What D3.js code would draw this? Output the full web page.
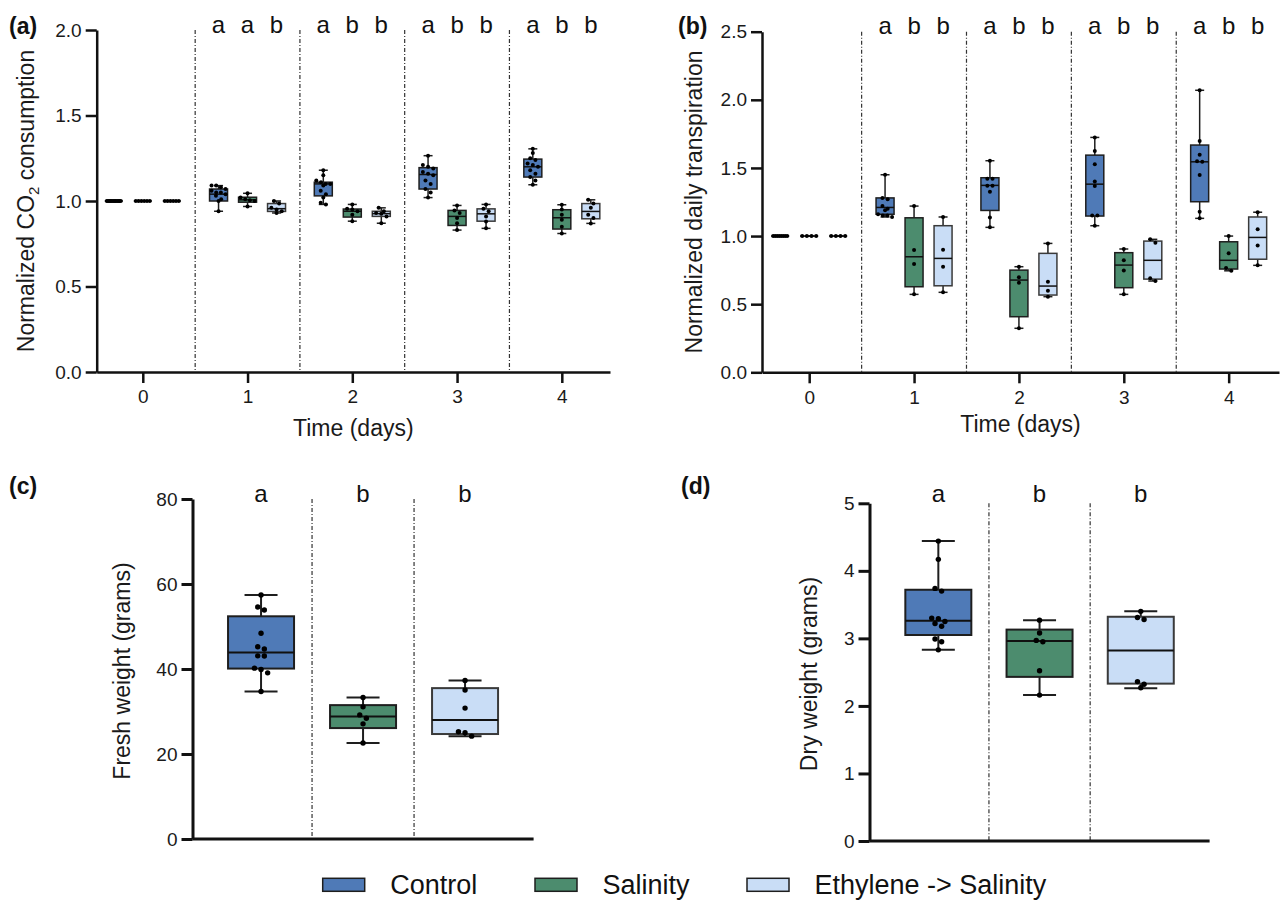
<!DOCTYPE html>
<html>
<head>
<meta charset="utf-8">
<script src="https://cdn.jsdelivr.net/npm/d3@7/dist/d3.min.js"></script>
<style>
  html, body { margin: 0; padding: 0; background: #fff; }
  svg { display: block; font-family: "Liberation Sans", Arial, Helvetica, sans-serif; }
</style>
</head>
<body>
<svg id="chart" width="1282" height="900"></svg>
<script>
// ---------------- DATA ----------------
const groups = ["Control", "Salinity", "Ethylene -> Salinity"];
const days = [0, 1, 2, 3, 4];
const dayTicks = ["0", "1", "2", "3", "4"];

// Panel (a): Normalized CO2 consumption, box stats [min, q1, median, q3, max]
const co2Control = [
  [1, 1, 1, 1, 1],
  [0.94, 1.00, 1.04, 1.07, 1.09],
  [0.98, 1.03, 1.10, 1.11, 1.18],
  [1.02, 1.07, 1.155, 1.195, 1.265],
  [1.095, 1.14, 1.20, 1.245, 1.305]
];
const co2Salinity = [
  [1, 1, 1, 1, 1],
  [0.968, 0.993, 1.007, 1.022, 1.045],
  [0.882, 0.906, 0.94, 0.953, 0.98],
  [0.83, 0.857, 0.91, 0.945, 0.974],
  [0.81, 0.836, 0.902, 0.949, 0.978]
];
const co2Ethylene = [
  [1, 1, 1, 1, 1],
  [0.93, 0.939, 0.955, 0.985, 1.00],
  [0.87, 0.91, 0.926, 0.94, 0.96],
  [0.84, 0.882, 0.925, 0.954, 0.98],
  [0.869, 0.896, 0.939, 0.985, 1.007]
];
const co2ControlPts = [
  [1, 1, 1, 1, 1, 1, 1, 1, 1, 1, 1, 1],
  [1.09, 1.09, 1.08, 1.07, 1.06, 1.05, 1.05, 1.04, 1.03, 1.01, 1.00, 0.94],
  [1.18, 1.15, 1.12, 1.11, 1.10, 1.10, 1.09, 1.06, 1.04, 1.02, 0.99, 0.98],
  [1.265, 1.21, 1.20, 1.19, 1.17, 1.16, 1.15, 1.12, 1.10, 1.07, 1.05, 1.02],
  [1.305, 1.28, 1.25, 1.24, 1.22, 1.21, 1.20, 1.18, 1.16, 1.14, 1.12, 1.095]
];
const co2SalinityPts = [
  [1, 1, 1, 1, 1, 1],
  [1.045, 1.02, 1.01, 1.005, 1.00, 0.968],
  [0.98, 0.955, 0.95, 0.94, 0.92, 0.882],
  [0.974, 0.945, 0.93, 0.90, 0.87, 0.83],
  [0.978, 0.95, 0.92, 0.89, 0.85, 0.81]
];
const co2EthylenePts = [
  [1, 1, 1, 1, 1, 1],
  [1.00, 0.985, 0.96, 0.95, 0.94, 0.93],
  [0.96, 0.94, 0.93, 0.925, 0.91, 0.87],
  [0.98, 0.955, 0.94, 0.91, 0.88, 0.84],
  [1.007, 0.985, 0.96, 0.92, 0.90, 0.869]
];
const co2Letters = [[], ["a", "a", "b"], ["a", "b", "b"], ["a", "b", "b"], ["a", "b", "b"]];
const co2Ticks = [0, 0.5, 1.0, 1.5, 2.0];

// Panel (b): Normalized daily transpiration
const trControl = [
  [1, 1, 1, 1, 1],
  [1.14, 1.16, 1.21, 1.28, 1.45],
  [1.064, 1.188, 1.372, 1.428, 1.553],
  [1.076, 1.147, 1.381, 1.594, 1.724],
  [1.13, 1.252, 1.545, 1.668, 2.07]
];
const trSalinity = [
  [1, 1, 1, 1, 1],
  [0.572, 0.628, 0.848, 1.134, 1.22],
  [0.323, 0.408, 0.677, 0.75, 0.775],
  [0.572, 0.621, 0.787, 0.878, 0.905],
  [0.745, 0.758, 0.822, 0.958, 1.00]
];
const trEthylene = [
  [1, 1, 1, 1, 1],
  [0.587, 0.635, 0.836, 1.076, 1.14],
  [0.555, 0.567, 0.633, 0.873, 0.946],
  [0.67, 0.684, 0.822, 0.963, 0.976],
  [0.785, 0.83, 0.99, 1.14, 1.175]
];
const trControlPts = [
  [1, 1, 1, 1, 1, 1, 1, 1],
  [1.45, 1.28, 1.27, 1.22, 1.20, 1.19, 1.16, 1.15, 1.15, 1.14],
  [1.553, 1.42, 1.42, 1.37, 1.37, 1.325, 1.137, 1.064],
  [1.724, 1.624, 1.528, 1.40, 1.367, 1.15, 1.15, 1.076],
  [2.07, 1.697, 1.597, 1.55, 1.545, 1.448, 1.178, 1.13]
];
const trSalinityPts = [
  [1, 1, 1, 1],
  [1.22, 0.897, 0.795, 0.572],
  [0.775, 0.697, 0.657, 0.323],
  [0.905, 0.822, 0.748, 0.572],
  [1.00, 0.873, 0.765, 0.745]
];
const trEthylenePts = [
  [1, 1, 1, 1],
  [1.14, 0.90, 0.775, 0.587],
  [0.946, 0.665, 0.599, 0.555],
  [0.976, 0.95, 0.69, 0.67],
  [1.175, 1.05, 0.93, 0.785]
];
const trLetters = [[], ["a", "b", "b"], ["a", "b", "b"], ["a", "b", "b"], ["a", "b", "b"]];
const trTicks = [0, 0.5, 1.0, 1.5, 2.0, 2.5];

// Panel (c): Fresh weight (grams)
const freshStats = [
  [34.7, 40.1, 43.9, 52.4, 57.4],
  [22.6, 26.1, 28.8, 31.5, 33.3],
  [24.2, 24.7, 28.0, 35.5, 37.3]
];
const freshPts = [
  [57.4, 54.6, 53.9, 48.4, 45.25, 44.7, 43.1, 43.05, 40.2, 39.9, 39.1, 34.7],
  [33.3, 31.1, 29.2, 28.4, 27.1, 22.6],
  [37.3, 35.06, 30.8, 25.25, 25.0, 24.2]
];
const freshLetters = ["a", "b", "b"];
const freshTicks = [0, 20, 40, 60, 80];

// Panel (d): Dry weight (grams)
const dryStats = [
  [2.83, 3.05, 3.26, 3.72, 4.44],
  [2.16, 2.43, 2.96, 3.13, 3.27],
  [2.26, 2.33, 2.82, 3.32, 3.40]
];
const dryPts = [
  [4.44, 4.17, 3.74, 3.70, 3.30, 3.29, 3.25, 3.22, 3.18, 2.99, 2.95, 2.83],
  [3.27, 3.08, 2.97, 2.95, 2.52, 2.16],
  [3.40, 3.31, 3.28, 2.36, 2.32, 2.27]
];
const dryLetters = ["a", "b", "b"];
const dryTicks = [0, 1, 2, 3, 4, 5];

// ---------------- STYLE ----------------
const fills = ["#4f7ab7", "#4c8c6e", "#c9ddf6"];
const strokes = ["#1e1e1e", "#1e1e1e", "#3a3a3a"];
const svg = d3.select("#chart");
svg.append("rect").attr("width", 1282).attr("height", 900).attr("fill", "#fff");

function swarm(values, y, cx, r, maxHalf) {
  const pts = values.map(v => ({ v, y: y(v) })).sort((a, b) => a.y - b.y);
  const bins = [];
  for (const p of pts) {
    const last = bins[bins.length - 1];
    if (last && p.y - last[0].y < 2 * r) last.push(p); else bins.push([p]);
  }
  bins.forEach(bin => {
    const n = bin.length;
    const s = n > 1 ? Math.min(2 * r + 1.2, (2 * maxHalf) / (n - 1)) : 0;
    bin.forEach((p, i) => { p.x = cx + (i - (n - 1) / 2) * s; });
  });
  return pts;
}

function drawBox(g, stats, pts, cx, y, bw, gi, o) {
  const [mn, q1, md, q3, mx] = stats;
  const st = strokes[gi];
  g.append("line").attr("x1", cx).attr("x2", cx).attr("y1", y(q3)).attr("y2", y(mx))
    .attr("stroke", "#1e1e1e").attr("stroke-width", o.lw);
  g.append("line").attr("x1", cx).attr("x2", cx).attr("y1", y(q1)).attr("y2", y(mn))
    .attr("stroke", "#1e1e1e").attr("stroke-width", o.lw);
  [mn, mx].forEach(v => g.append("line")
    .attr("x1", cx - bw / 4).attr("x2", cx + bw / 4).attr("y1", y(v)).attr("y2", y(v))
    .attr("stroke", "#1e1e1e").attr("stroke-width", o.lw));
  g.append("rect").attr("x", cx - bw / 2).attr("width", bw)
    .attr("y", y(q3)).attr("height", Math.max(0, y(q1) - y(q3)))
    .attr("fill", fills[gi]).attr("stroke", st).attr("stroke-width", o.lw);
  g.append("line").attr("x1", cx - bw / 2).attr("x2", cx + bw / 2).attr("y1", y(md)).attr("y2", y(md))
    .attr("stroke", "#111").attr("stroke-width", o.lw);
  swarm(pts, y, cx, o.r, bw / 2 - o.r).forEach(p => {
    g.append("circle").attr("cx", p.x).attr("cy", p.y).attr("r", o.r).attr("fill", "#000");
  });
}

function yAxis(g, y, ticks, fmt, left, aw) {
  const ax = g.append("g").attr("transform", `translate(${left},0)`)
    .call(d3.axisLeft(y).tickValues(ticks).tickFormat(fmt).tickSize(11).tickPadding(4).tickSizeOuter(0));
  ax.select(".domain").attr("stroke", "#111").attr("stroke-width", aw);
  ax.selectAll(".tick line").attr("stroke", "#111").attr("stroke-width", aw);
  ax.selectAll(".tick text").attr("font-size", 19).attr("fill", "#1a1a1a")
    .attr("font-family", "'Liberation Sans', Arial, sans-serif");
  return ax;
}

function separator(g, x, y0, y1) {
  g.append("line").attr("x1", x).attr("x2", x).attr("y1", y0).attr("y2", y1)
    .attr("stroke", "#333").attr("stroke-width", 1.2).attr("stroke-dasharray", "4,2,1,2");
}

function label(txt, x, y) {
  svg.append("text").attr("x", x).attr("y", y).attr("font-size", 23).attr("font-weight", "bold")
    .attr("fill", "#111").text(txt);
}

function yTitle(cx, cy, build) {
  const t = svg.append("text").attr("transform", `translate(${cx},${cy}) rotate(-90)`)
    .attr("text-anchor", "middle").attr("dy", "0.35em").attr("font-size", 23).attr("fill", "#1a1a1a");
  build(t);
}

// ---------------- TIME PANELS (a), (b) ----------------
function timePanel(cfg) {
  const g = svg.append("g");
  const x = d3.scaleLinear().domain(cfg.xDomain).range(cfg.xRange);
  const y = d3.scaleLinear().domain([0, cfg.yMax]).range(cfg.yRange);
  const offs = [-29, 0, 29];
  const bw = 18;

  days.slice(0, -1).forEach(d => separator(g, x(d + 0.5), y(cfg.yMax), y(0)));

  days.forEach((d, di) => {
    cfg.stats.forEach((s, gi) => {
      drawBox(g, s[di], cfg.pts[gi][di], x(d) + offs[gi], y, bw, gi, { lw: 1.5, r: 2 });
    });
    cfg.letters[di].forEach((L, gi) => {
      g.append("text").attr("x", x(d) + offs[gi]).attr("y", cfg.letterY).attr("text-anchor", "middle")
        .attr("font-size", 24).attr("fill", "#111").text(L);
    });
  });

  yAxis(g, y, cfg.ticks, d3.format(".1f"), cfg.xRange[0], 2.5);
  const xa = g.append("g").attr("transform", `translate(0,${y(0)})`)
    .call(d3.axisBottom(x).tickValues(days).tickFormat((d, i) => dayTicks[i]).tickSize(11).tickPadding(7).tickSizeOuter(0));
  xa.select(".domain").attr("stroke", "#111").attr("stroke-width", 2.5);
  xa.selectAll(".tick line").attr("stroke", "#111").attr("stroke-width", 2.5);
  xa.selectAll(".tick text").attr("font-size", 19).attr("fill", "#1a1a1a")
    .attr("font-family", "'Liberation Sans', Arial, sans-serif");

  g.append("text").attr("x", (cfg.xRange[0] + cfg.xRange[1]) / 2).attr("y", cfg.xTitleY)
    .attr("text-anchor", "middle").attr("font-size", 23).attr("fill", "#1a1a1a").text("Time (days)");
}

timePanel({
  xDomain: [-0.44, 4.46], xRange: [96.7, 610], yMax: 2.0, yRange: [372, 30],
  stats: [co2Control, co2Salinity, co2Ethylene],
  pts: [co2ControlPts, co2SalinityPts, co2EthylenePts],
  letters: co2Letters, letterY: 33, ticks: co2Ticks, xTitleY: 436
});
timePanel({
  xDomain: [-0.45, 4.48], xRange: [762, 1279], yMax: 2.5, yRange: [372.3, 31.7],
  stats: [trControl, trSalinity, trEthylene],
  pts: [trControlPts, trSalinityPts, trEthylenePts],
  letters: trLetters, letterY: 34, ticks: trTicks, xTitleY: 432
});

label("(a)", 9, 34);
label("(b)", 678, 34);
yTitle(26, 201, t => {
  t.append("tspan").text("Normalized CO");
  t.append("tspan").attr("font-size", 15).attr("dy", "0.35em").text("2");
  t.append("tspan").attr("dy", "-0.25em").text(" consumption");
});
yTitle(694, 202, t => t.text("Normalized daily transpiration"));

// ---------------- WEIGHT PANELS (c), (d) ----------------
function weightPanel(cfg) {
  const g = svg.append("g");
  const x = d3.scalePoint().domain(groups).range(cfg.xRange).padding(cfg.pad);
  const y = d3.scaleLinear().domain([0, cfg.yMax]).range(cfg.yRange);
  const bw = 66;
  const step = x.step();

  groups.slice(0, -1).forEach(gr => separator(g, x(gr) + step / 2, y(cfg.yMax), y(0)));

  groups.forEach((gr, gi) => {
    drawBox(g, cfg.stats[gi], cfg.pts[gi], x(gr), y, bw, gi, { lw: 2, r: 2.7 });
    g.append("text").attr("x", x(gr)).attr("y", cfg.letterY).attr("text-anchor", "middle")
      .attr("font-size", 24).attr("fill", "#111").text(cfg.letters[gi]);
  });

  yAxis(g, y, cfg.ticks, d3.format("d"), cfg.xRange[0], 3);
  g.append("line").attr("x1", cfg.xRange[0]).attr("x2", cfg.xRange[1]).attr("y1", y(0)).attr("y2", y(0))
    .attr("stroke", "#111").attr("stroke-width", 3);
}

weightPanel({
  xRange: [192.5, 533.6], pad: 0.672, yMax: 80, yRange: [839, 499],
  stats: freshStats, pts: freshPts, letters: freshLetters, letterY: 502, ticks: freshTicks
});
weightPanel({
  xRange: [869.5, 1209.6], pad: 0.68, yMax: 5, yRange: [841, 503.3],
  stats: dryStats, pts: dryPts, letters: dryLetters, letterY: 502, ticks: dryTicks
});

label("(c)", 9, 494);
label("(d)", 681, 494);
yTitle(121.5, 671, t => t.text("Fresh weight (grams)"));
yTitle(809, 674, t => t.text("Dry weight (grams)"));

// ---------------- LEGEND ----------------
const legX = [322.7, 535, 747];
const legG = svg.append("g");
groups.forEach((gr, gi) => {
  legG.append("rect").attr("x", legX[gi]).attr("y", 878.3).attr("width", 42).attr("height", 13)
    .attr("fill", fills[gi]).attr("stroke", "#1e1e1e").attr("stroke-width", 1.5);
  legG.append("text").attr("x", legX[gi] + 67.5).attr("y", 894).attr("font-size", 27)
    .attr("fill", "#111").text(gr);
});
</script>
</body>
</html>
